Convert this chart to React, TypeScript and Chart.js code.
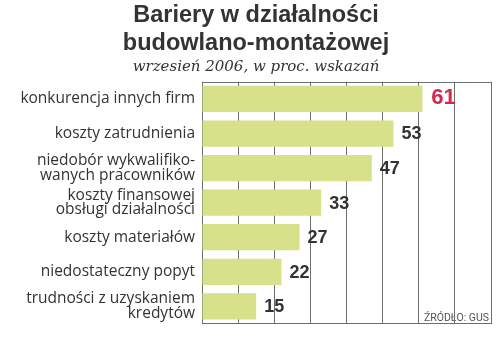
import React, { useEffect, useRef } from "react";
import { Chart, registerables } from "chart.js";

Chart.register(...registerables);

const categories: (string | string[])[] = [
  "konkurencja innych firm",
  "koszty zatrudnienia",
  ["niedobór wykwalifiko-", "wanych pracowników"],
  ["koszty finansowej", "obsługi działalności"],
  "koszty materiałów",
  "niedostateczny popyt",
  ["trudności z uzyskaniem", "kredytów"],
];
const values: number[] = [61, 53, 47, 33, 27, 22, 15];
const titleLines: string[] = ["Bariery w działalności", "budowlano-montażowej"];
const subtitleText = "wrzesień 2006, w proc. wskazań";
const sourceText = "ŹRÓDŁO: GUS";

const BAR = "#d7e189";
const GRID = "#6e6e6e";
const TEXT = "#333333";
const HIGHLIGHT = "#d4284f";

const extras = {
  id: "extras",
  beforeDatasetsDraw(chart: any) {
    const { ctx, chartArea } = chart;
    ctx.save();
    ctx.strokeStyle = GRID;
    ctx.lineWidth = 1;
    ctx.beginPath();
    ctx.moveTo(chartArea.left, Math.round(chartArea.top) + 0.5);
    ctx.lineTo(chartArea.right, Math.round(chartArea.top) + 0.5);
    ctx.stroke();
    ctx.restore();
  },
  afterDatasetsDraw(chart: any) {
    const { ctx, chartArea } = chart;
    const meta = chart.getDatasetMeta(0);
    ctx.save();
    ctx.textBaseline = "middle";
    ctx.textAlign = "left";
    meta.data.forEach((bar: any, i: number) => {
      const v = values[i];
      const isMax = v === Math.max(...values);
      ctx.fillStyle = isMax ? HIGHLIGHT : TEXT;
      ctx.font = isMax
        ? "bold 22px 'Liberation Sans', Arial, sans-serif"
        : "bold 18px 'Liberation Sans', Arial, sans-serif";
      ctx.fillText(String(v), bar.x + (isMax ? 9 : 8), bar.y + (isMax ? -1 : 1));
    });
    ctx.fillStyle = "#555";
    ctx.font = "10.5px 'Roboto', sans-serif";
    ctx.textAlign = "right";
    ctx.textBaseline = "alphabetic";
    ctx.fillText(sourceText, chartArea.right - 2, chartArea.bottom - 3);
    ctx.restore();
  },
};

export default function App() {
  const ref = useRef<HTMLCanvasElement | null>(null);
  useEffect(() => {
    if (!ref.current) return;
    const chart = new Chart(ref.current, {
      type: "bar",
      data: {
        labels: categories,
        datasets: [
          {
            data: values,
            backgroundColor: BAR,
            borderWidth: 0,
            barPercentage: 0.76,
            categoryPercentage: 1,
          },
        ],
      },
      options: {
        indexAxis: "y",
        animation: false,
        responsive: false,
        devicePixelRatio: 1,
        layout: { padding: { left: 21, right: 9, top: 0, bottom: 14 } },
        plugins: {
          legend: { display: false },
          tooltip: { enabled: false },
          title: {
            display: true,
            text: titleLines,
            color: TEXT,
            font: { family: "'Liberation Sans', Arial, sans-serif", size: 23.5, weight: "bold", lineHeight: 1.19 },
            padding: { top: 2, bottom: 0 },
          },
          subtitle: {
            display: true,
            text: subtitleText,
            color: TEXT,
            font: { family: "'DejaVu Serif', serif", size: 15, style: "italic", lineHeight: 1.25 },
            padding: { top: 0, bottom: 5 },
          },
        },
        scales: {
          x: {
            min: 0,
            max: 80,
            ticks: { stepSize: 10, display: false },
            grid: { color: GRID, drawTicks: false, lineWidth: 1 },
            border: { display: true, color: GRID },
          },
          y: {
            ticks: {
              color: TEXT,
              padding: 7,
              font: { family: "'Open Sans', sans-serif", size: 15.5, lineHeight: 0.95 },
            },
            grid: { display: false, drawTicks: false },
            border: { display: false },
            afterFit(axis: any) {
              axis.width = 181;
            },
          },
        },
      },
      plugins: [extras],
    });
    return () => chart.destroy();
  }, []);
  return (
    <div style={{ position: "fixed", left: 0, top: 0, width: 500, height: 338, background: "#fff" }}>
      <canvas ref={ref} width={500} height={338} />
    </div>
  );
}
